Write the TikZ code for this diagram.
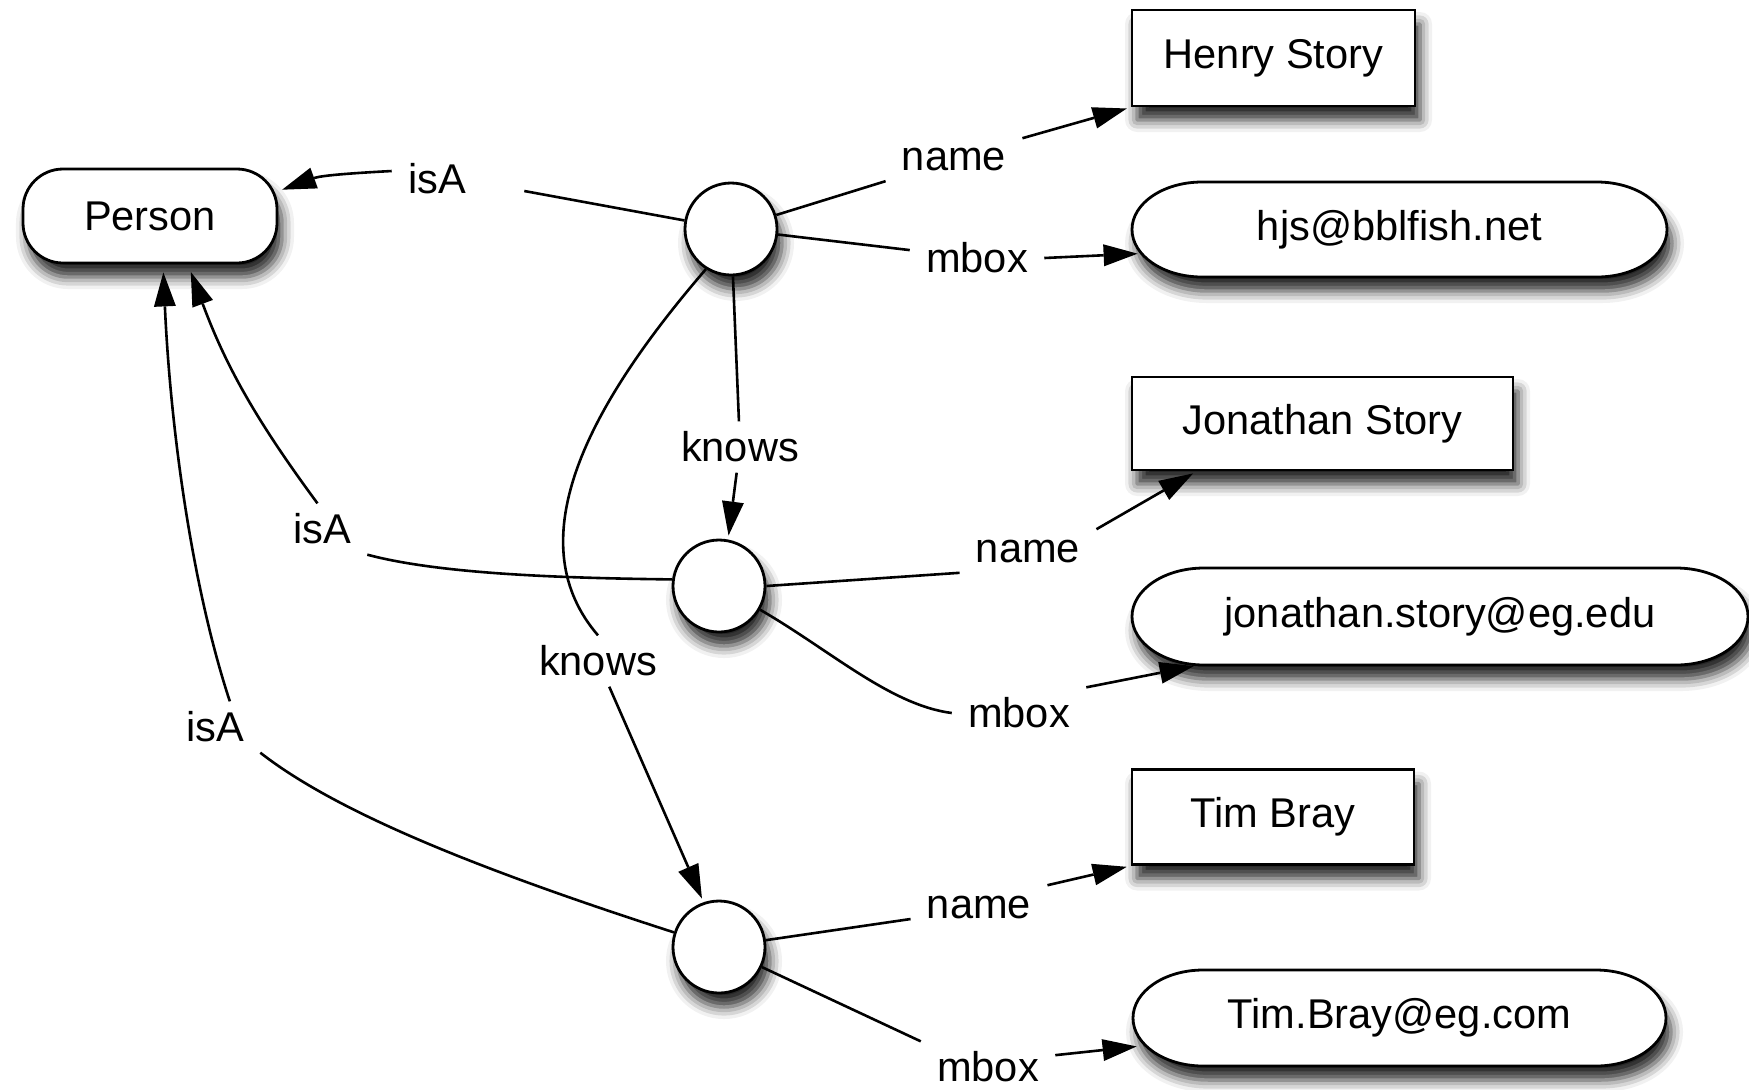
\documentclass[tikz,border=0pt]{standalone}
\usepackage{fontspec}
\setmainfont{Liberation Sans}
\usetikzlibrary{arrows.meta,shadows.blur}
\begin{document}
\begin{tikzpicture}[x=0.5pt,y=0.5pt,
  font=\fontsize{20.8}{25}\selectfont,
  shade/.style={blur shadow={shadow xshift=2.5pt,shadow yshift=-7pt,shadow blur radius=6pt,shadow opacity=85}},
  nodeline/.style={draw,line width=1.4pt,fill=white},
  rbox/.style={nodeline,rectangle,inner sep=0pt,shade},
  pbox/.style={nodeline,rectangle,rounded corners=20pt,inner sep=0pt,shade},
  res/.style={nodeline,circle,minimum size=46pt,inner sep=0pt,shade},
  lit/.style={inner sep=0pt},
  lab/.style={inner xsep=8pt,inner ysep=5pt},
  conn/.style={line width=1.3pt,draw=black},
  arr/.style={conn,-{Triangle[length=17pt,width=11pt,fill=black,line width=0pt]},shorten >=2pt},
]
\useasboundingbox (0,0) rectangle (1749,-1089);

% stadium outlines of the literal nodes (centre x, centre y, half width, half height, end radius)
\newcommand\stadiumpath[5]{%
  \draw[nodeline,shade] ({#1-#3+#5},{#2+#4}) -- ({#1+#3-#5},{#2+#4})
    arc[start angle=90,end angle=-90,x radius=#5,y radius=#4]
    -- ({#1-#3+#5},{#2-#4})
    arc[start angle=270,end angle=90,x radius=#5,y radius=#4] -- cycle;}
\stadiumpath{1399.5}{-229.5}{267.5}{47.5}{70}
\stadiumpath{1440}{-616.5}{308}{48.5}{72}
\stadiumpath{1399.5}{-1018}{266.5}{48}{70}

% class and literal nodes
\node[pbox,minimum width=127pt,minimum height=47pt] (person) at (150,-216) {Person};
\node[rbox,minimum width=141.5pt,minimum height=48pt] (henry) at (1273.5,-58) {Henry Story};
\node[lit,minimum width=267.5pt,minimum height=47.5pt] (hjs) at (1399.5,-229.5) {hjs@bblfish.net};
\node[rbox,minimum width=190.5pt,minimum height=46.5pt] (jon) at (1322.5,-423.5) {Jonathan Story};
\node[lit,minimum width=308pt,minimum height=48.5pt] (jmail) at (1440,-616.5) {jonathan.story@eg.edu};
\node[rbox,minimum width=141pt,minimum height=47.5pt] (tim) at (1273,-817) {Tim Bray};
\node[lit,minimum width=266.5pt,minimum height=48pt] (tmail) at (1399.5,-1018) {Tim.Bray@eg.com};

% blank nodes
\node[res] (c1) at (731,-229) {};
\node[res] (c2) at (719,-586) {};
\node[res] (c3) at (719,-947) {};

% labels
\node[lab] (isA1) at (437,-179) {isA};
\node[lab] (name1) at (954,-160) {name};
\node[lab] (mbox1) at (977,-258) {mbox};
\node[lab] (knows1) at (740,-447) {knows};
\node[lab] (isA2) at (322,-529) {isA};
\node[lab] (name2) at (1028,-551) {name};
\node[lab] (knows2) at (598,-661) {knows};
\node[lab] (mbox2) at (1019,-713) {mbox};
\node[lab] (isA3) at (215,-727) {isA};
\node[lab] (name3) at (979,-907) {name};
\node[lab] (mbox3) at (988,-1067) {mbox};

% Henry
\draw[conn] (c1) -- ([xshift=21pt,yshift=-6pt]isA1.east);
\draw[arr] (isA1.170) to[out=183,in=20] (person.11);
\draw[conn] (c1) -- (name1);
\draw[arr] (name1.north east) -- (henry.south west);
\draw[conn] (c1) -- (mbox1);
\draw[arr] (mbox1.east) -- ([xshift=5pt,yshift=-12pt]hjs.west);
\draw[conn] (c1) -- (knows1);
\draw[arr] (knows1) -- (c2.79);
\draw[conn] (c1.238) .. controls (580,-415) and (520,-545) .. (knows2.north);
\draw[arr] (knows2) -- (c3.109);

% Jonathan
\draw[conn] (c2.172) .. controls (560,-578) and (440,-574) .. (isA2.south east);
\draw[arr,shorten >=4pt] (isA2.100) to[bend left=8] ([xshift=19pt]person.south);
\draw[conn] (c2.east) -- (name2.south west);
\draw[arr] (name2.north east) -- ([xshift=33pt]jon.south west);
\draw[conn] (c2.-30) .. controls (830,-650) and (890,-705) .. (mbox2.west);
\draw[arr] (mbox2.north east) -- ([xshift=33pt]jmail.south west);

% Tim
\draw[conn] (c3.162) .. controls (490,-873) and (340,-815) .. (isA3.south east);
\draw[arr,shorten >=4pt] (isA3.60) .. controls (190,-580) and (170,-420) .. ([xshift=6.5pt]person.south);
\draw[conn] (c3) -- ([yshift=-6pt]name3.west);
\draw[arr] (name3.north east) -- (tim.south west);
\draw[conn] (c3) -- (mbox3.north west);
\draw[arr] (mbox3.10) -- ([xshift=4pt,yshift=-14pt]tmail.west);
\end{tikzpicture}
\end{document}
